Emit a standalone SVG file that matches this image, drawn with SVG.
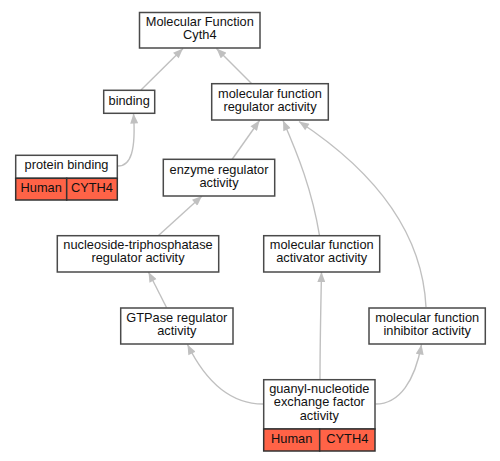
<svg xmlns="http://www.w3.org/2000/svg" width="500" height="461" viewBox="0 0 500 461">
<style>
text{font-family:"Liberation Sans",Arial,sans-serif;font-size:12.8px;fill:#111;text-anchor:middle}
.box{fill:#fff;stroke:#4a4a4a;stroke-width:1.5}
.org{fill:#ff6347;stroke:#333;stroke-width:1.5}
.edge{fill:none;stroke:#c0c0c0;stroke-width:1.4;marker-end:url(#arr)}
</style>
<defs>
<marker id="arr" viewBox="0 0 10 8" refX="10" refY="4" markerWidth="11" markerHeight="8" markerUnits="userSpaceOnUse" orient="auto">
<path d="M0,0 L10,4 L0,8 z" fill="#c0c0c0"/>
</marker>
</defs>
<rect width="500" height="461" fill="#fff"/>
<g id="edges">
<path class="edge" d="M141,90 L183,48.5"/>
<path class="edge" d="M252,84 L216.5,48.5"/>
<path class="edge" d="M118,166 C131,166 136,150 133.5,113.5"/>
<path class="edge" d="M232,159.5 L259.5,120.5"/>
<path class="edge" d="M319.5,235.5 C312,190 298,155 283,120.5"/>
<path class="edge" d="M426,307 C422,225 365,165 299,121.5"/>
<path class="edge" d="M158.5,235.5 L202,196"/>
<path class="edge" d="M166.5,307.5 L148.5,272"/>
<path class="edge" d="M263,404 C230,404 205,380 187.5,344.5"/>
<path class="edge" d="M320,379.5 C320,340 321,300 321.5,272"/>
<path class="edge" d="M375.5,404 C400,404 415,380 421.5,344.5"/>
</g>
<g id="n_mf">
<rect class="box" x="139.5" y="12.5" width="120.5" height="35.5"/>
<text x="199.8" y="26.2">Molecular Function</text>
<text x="199.8" y="39.2">Cyth4</text>
</g>
<g id="n_binding">
<rect class="box" x="103.7" y="90.3" width="51" height="23"/>
<text x="129.2" y="104.5">binding</text>
</g>
<g id="n_mfra">
<rect class="box" x="211.7" y="83.7" width="116.6" height="36.3"/>
<text x="270" y="98">molecular function</text>
<text x="270" y="111">regulator activity</text>
</g>
<g id="n_protein">
<rect class="box" x="15.7" y="155.3" width="101.6" height="23"/>
<text x="66.5" y="169.3">protein binding</text>
<rect class="org" x="15.7" y="178.3" width="51" height="21.7"/>
<rect class="org" x="66.7" y="178.3" width="50.6" height="21.7"/>
<text x="41.2" y="192.2">Human</text>
<text x="92" y="192.2">CYTH4</text>
</g>
<g id="n_enzyme">
<rect class="box" x="163.3" y="159.3" width="111.4" height="36.7"/>
<text x="219" y="173.7">enzyme regulator</text>
<text x="219" y="186.7">activity</text>
</g>
<g id="n_ntp">
<rect class="box" x="57.3" y="235.7" width="161.4" height="36.3"/>
<text x="138" y="249.3">nucleoside-triphosphatase</text>
<text x="138" y="262.3">regulator activity</text>
</g>
<g id="n_act">
<rect class="box" x="263.7" y="235.7" width="116" height="36.3"/>
<text x="321.7" y="249.3">molecular function</text>
<text x="321.7" y="262.3">activator activity</text>
</g>
<g id="n_gtp">
<rect class="box" x="120.7" y="308" width="112.3" height="36"/>
<text x="176.8" y="321.7">GTPase regulator</text>
<text x="176.8" y="334.7">activity</text>
</g>
<g id="n_inh">
<rect class="box" x="369" y="308" width="116.3" height="36"/>
<text x="427.2" y="321.7">molecular function</text>
<text x="427.2" y="334.7">inhibitor activity</text>
</g>
<g id="n_gef">
<rect class="box" x="263.7" y="379.7" width="111.3" height="49.3"/>
<text x="319.3" y="392.8">guanyl-nucleotide</text>
<text x="319.3" y="406.2">exchange factor</text>
<text x="319.3" y="419.6">activity</text>
<rect class="org" x="263.7" y="429" width="56" height="22"/>
<rect class="org" x="319.7" y="429" width="55.3" height="22"/>
<text x="291.7" y="442.5">Human</text>
<text x="347.3" y="442.5">CYTH4</text>
</g>
</svg>
